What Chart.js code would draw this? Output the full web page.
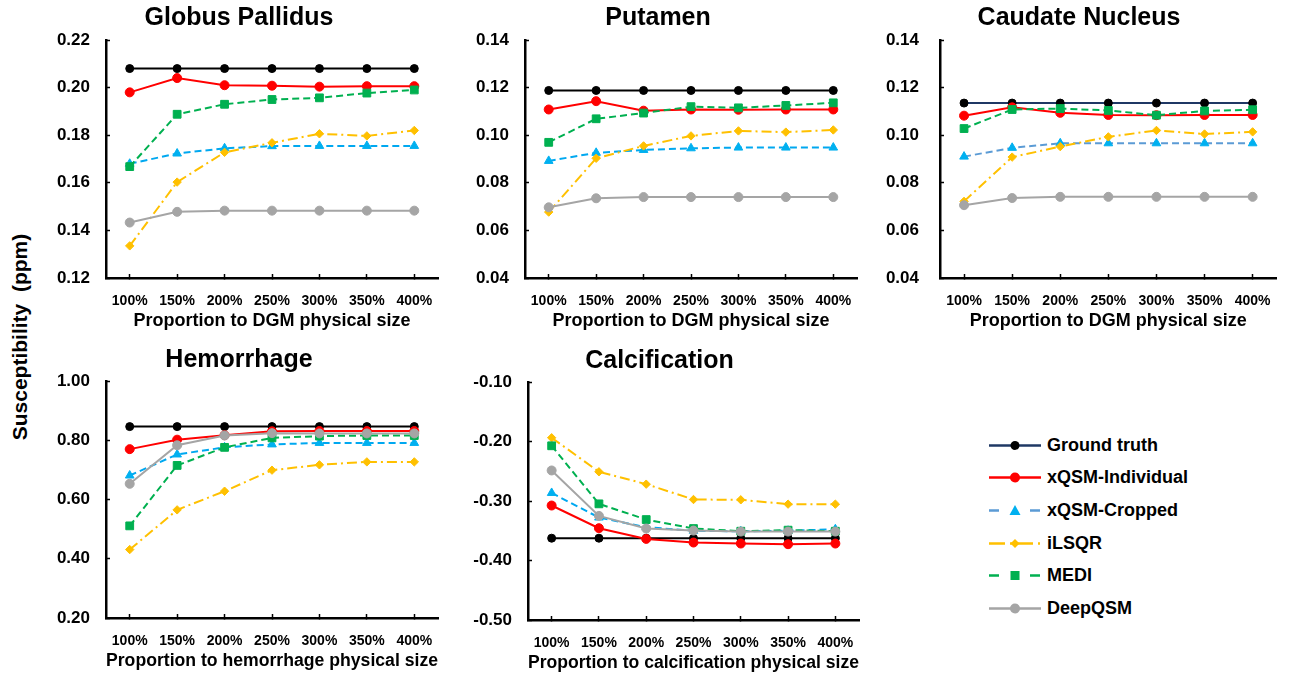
<!DOCTYPE html>
<html>
<head>
<meta charset="utf-8">
<script src="https://cdn.jsdelivr.net/npm/chart.js@4.4.1/dist/chart.umd.min.js"></script>
<style>
body { margin: 0; background: #fff; width: 1295px; height: 673px; position: relative; overflow: hidden; font-family: 'Liberation Sans', Arial, sans-serif; }
canvas { position: absolute; }
#yTitle { position: absolute; left: 20px; top: 337px; transform: translate(-50%, -50%) rotate(-90deg); font-weight: bold; font-size: 21px; white-space: pre; }
#legend { position: absolute; left: 989px; top: 429px; }
.row { height: 32.6px; display: flex; align-items: center; font-weight: bold; font-size: 18px; color: #000; }
.row svg { margin-right: 6px; }
</style>
</head>
<body>
<canvas id="gp" width="448" height="332"></canvas>
<canvas id="pu" width="416" height="332"></canvas>
<canvas id="cn" width="422" height="332"></canvas>
<canvas id="he" width="448" height="332"></canvas>
<canvas id="ca" width="436" height="333"></canvas>
<div id="yTitle">Susceptibility  (ppm)</div>
<div id="legend"></div>
<script>
const categories = ['100%', '150%', '200%', '250%', '300%', '350%', '400%']
const seriesNames = ['Ground truth', 'xQSM-Individual', 'xQSM-Cropped', 'iLSQR', 'MEDI', 'DeepQSM']

// Globus Pallidus
const gpTruth = [0.208, 0.208, 0.208, 0.208, 0.208, 0.208, 0.208]
const gpIndividual = [0.198, 0.204, 0.201, 0.2008, 0.2004, 0.2006, 0.2006]
const gpCropped = [0.168, 0.1723, 0.1745, 0.1754, 0.1755, 0.1755, 0.1755]
const gpIlsqr = [0.1335, 0.1603, 0.1728, 0.1768, 0.1806, 0.1797, 0.182]
const gpMedi = [0.1668, 0.1888, 0.193, 0.195, 0.1957, 0.1977, 0.199]
const gpDeep = [0.1433, 0.1478, 0.1483, 0.1483, 0.1483, 0.1483, 0.1483]

// Putamen
const puTruth = [0.1188, 0.1188, 0.1188, 0.1188, 0.1188, 0.1188, 0.1188]
const puIndividual = [0.1108, 0.1143, 0.1103, 0.1108, 0.1107, 0.1108, 0.1108]
const puCropped = [0.0892, 0.0926, 0.0938, 0.0945, 0.0948, 0.0948, 0.0948]
const puIlsqr = [0.0677, 0.0903, 0.0955, 0.0997, 0.1018, 0.1013, 0.1022]
const puMedi = [0.097, 0.1069, 0.1093, 0.112, 0.1115, 0.1125, 0.1136]
const puDeep = [0.0697, 0.0735, 0.074, 0.074, 0.074, 0.074, 0.074]

// Caudate Nucleus
const cnTruth = [0.1135, 0.1135, 0.1135, 0.1135, 0.1135, 0.1135, 0.1135]
const cnIndividual = [0.1082, 0.1117, 0.1094, 0.1085, 0.1084, 0.1085, 0.1085]
const cnCropped = [0.091, 0.0947, 0.0966, 0.0966, 0.0966, 0.0966, 0.0966]
const cnIlsqr = [0.0722, 0.0908, 0.0952, 0.0993, 0.102, 0.1005, 0.1014]
const cnMedi = [0.1028, 0.1108, 0.1112, 0.1104, 0.1084, 0.1102, 0.1107]
const cnDeep = [0.0706, 0.0736, 0.0741, 0.0741, 0.0741, 0.0741, 0.0741]

// Hemorrhage
const heTruth = [0.846, 0.846, 0.846, 0.846, 0.846, 0.846, 0.846]
const heIndividual = [0.770, 0.802, 0.817, 0.830, 0.831, 0.831, 0.831]
const heCropped = [0.681, 0.752, 0.776, 0.786, 0.791, 0.791, 0.791]
const heIlsqr = [0.431, 0.565, 0.628, 0.699, 0.717, 0.727, 0.727]
const heMedi = [0.511, 0.715, 0.776, 0.808, 0.814, 0.816, 0.816]
const heDeep = [0.653, 0.783, 0.816, 0.824, 0.823, 0.823, 0.823]

// Calcification
const caTruth = [-0.3625, -0.3625, -0.3625, -0.3625, -0.3625, -0.3625, -0.3625]
const caIndividual = [-0.3076, -0.3457, -0.3637, -0.3698, -0.3715, -0.3726, -0.3715]
const caCropped = [-0.2865, -0.3278, -0.344, -0.350, -0.351, -0.350, -0.3475]
const caIlsqr = [-0.1937, -0.2509, -0.2717, -0.2975, -0.298, -0.3053, -0.3053]
const caMedi = [-0.2072, -0.3048, -0.3312, -0.3463, -0.3508, -0.349, -0.3508]
const caDeep = [-0.2487, -0.325, -0.3463, -0.3497, -0.3514, -0.3514, -0.3514]

Chart.defaults.font.family = "'Liberation Sans', Arial, sans-serif"
Chart.defaults.font.weight = 'bold'
Chart.defaults.color = '#000'

const styles = [
    { color: '#000000', marker: '#000000', dash: [], point: 'circle', radius: 4 },
    { color: '#ff0000', marker: '#ff0000', dash: [], point: 'circle', radius: 4.5 },
    { color: '#00a8f0', marker: '#00b0f0', dash: [7, 4], point: 'triangle', radius: 5 },
    { color: '#ffc000', marker: '#ffc000', dash: [10, 4, 2, 4], point: 'rectRot', radius: 4.2 },
    { color: '#00b050', marker: '#00b050', dash: [7, 4], point: 'rect', radius: 5.5 },
    { color: '#a5a5a5', marker: '#a5a5a5', dash: [], point: 'circle', radius: 4.5 },
]

const makePanel = (id, box, title, xTitle, series, yMin, yMax, yStep, overrides) => {
    const canvas = document.getElementById(id)
    canvas.style.left = box.left + 'px'
    canvas.style.top = box.top + 'px'

    const datasets = series.map((values, i) => {
        const st = Object.assign({}, styles[i], (overrides && overrides[i]) || {})
        return {
            label: seriesNames[i],
            data: values,
            borderColor: st.color,
            backgroundColor: st.marker,
            borderWidth: 2,
            borderDash: st.dash,
            pointStyle: st.point,
            pointRadius: st.radius,
            pointBackgroundColor: st.marker,
            pointBorderColor: st.marker,
            pointBorderWidth: 1,
            tension: 0,
            order: 5 - i,
        }
    })

    return new Chart(canvas, {
        type: 'line',
        data: { labels: categories, datasets: datasets },
        options: {
            responsive: false,
            animation: false,
            devicePixelRatio: 1,
            layout: { padding: { left: 0, right: box.padRight, top: 0, bottom: 0 } },
            plugins: {
                legend: { display: false },
                tooltip: { enabled: false },
                title: {
                    display: true,
                    text: title,
                    font: { size: 25, weight: 'bold', lineHeight: 1.2 },
                    color: '#000',
                    padding: { top: box.titleTop, bottom: box.titleBottom },
                },
            },
            scales: {
                x: {
                    offset: true,
                    afterFit: (scale) => { scale.height = 54 },
                    border: { display: true, color: '#000', width: 2.5 },
                    grid: { drawOnChartArea: false, drawTicks: true, tickLength: -4, tickColor: '#000', tickWidth: 1.5 },
                    ticks: { font: { size: 14, weight: 'bold' }, padding: 19, maxRotation: 0, autoSkip: false },
                    title: { display: true, text: xTitle, font: { size: 18, weight: 'bold', lineHeight: 1.2 }, padding: 0 },
                },
                y: {
                    min: yMin,
                    max: yMax,
                    afterFit: (scale) => { scale.width = box.yWidth },
                    border: { display: true, color: '#000', width: 2.5 },
                    grid: { drawOnChartArea: false, drawTicks: true, tickLength: -4, tickColor: '#000', tickWidth: 1.5 },
                    ticks: {
                        stepSize: yStep,
                        font: { size: 17, weight: 'bold' },
                        padding: box.tickPad,
                        callback: (v) => v.toFixed(2),
                    },
                },
            },
        },
    })
}

const navyTruth = [{ color: '#1f3864' }, null, { color: '#5b9bd5' }]

makePanel('gp', { left: 40, top: 0, padRight: 50, yWidth: 66, titleTop: 3, titleBottom: 7, tickPad: 20 },
    'Globus Pallidus', 'Proportion to DGM physical size',
    [gpTruth, gpIndividual, gpCropped, gpIlsqr, gpMedi, gpDeep], 0.12, 0.22, 0.02)

makePanel('pu', { left: 459, top: 0, padRight: 18, yWidth: 66, titleTop: 3, titleBottom: 7, tickPad: 20 },
    'Putamen', 'Proportion to DGM physical size',
    [puTruth, puIndividual, puCropped, puIlsqr, puMedi, puDeep], 0.04, 0.14, 0.02)

makePanel('cn', { left: 868, top: 0, padRight: 0, yWidth: 72, titleTop: 3, titleBottom: 7, tickPad: 25 },
    'Caudate Nucleus', 'Proportion to DGM physical size',
    [cnTruth, cnIndividual, cnCropped, cnIlsqr, cnMedi, cnDeep], 0.04, 0.14, 0.02, navyTruth)

makePanel('he', { left: 40, top: 340, padRight: 50, yWidth: 66, titleTop: 5, titleBottom: 6, tickPad: 20 },
    'Hemorrhage', 'Proportion to hemorrhage physical size',
    [heTruth, heIndividual, heCropped, heIlsqr, heMedi, heDeep], 0.2, 1.0, 0.2)

makePanel('ca', { left: 460, top: 341, padRight: 37, yWidth: 68, titleTop: 5, titleBottom: 6, tickPad: 20 },
    'Calcification', 'Proportion to calcification physical size',
    [caTruth, caIndividual, caCropped, caIlsqr, caMedi, caDeep], -0.5, -0.1, 0.1)

// legend built from the series names and styles
const legendLine = ['#1f3864', '#ff0000', '#5b9bd5', '#ffc000', '#00b050', '#a5a5a5']
const legendDash = ['', '', '10,31', '16,5,2,5', '10,31', '']
const markerSvg = (i, c) => {
    if (i === 2) return `<polygon points="26,2 31.5,12 20.5,12" fill="${c}"/>`
    if (i === 3) return `<polygon points="26,3 30.5,7.5 26,12 21.5,7.5" fill="${c}"/>`
    if (i === 4) return `<rect x="21.5" y="3" width="9" height="9" fill="${c}"/>`
    return `<circle cx="26" cy="7.5" r="${i === 0 ? 4.5 : 5}" fill="${c}"/>`
}
const legend = document.getElementById('legend')
seriesNames.forEach((name, i) => {
    const row = document.createElement('div')
    row.className = 'row'
    row.innerHTML = `<svg width="52" height="15"><line x1="0" y1="7.5" x2="52" y2="7.5" stroke="${legendLine[i]}" stroke-width="2.5" stroke-dasharray="${legendDash[i]}"/>${markerSvg(i, styles[i].marker)}</svg><span>${name}</span>`
    legend.appendChild(row)
})
</script>
</body>
</html>
